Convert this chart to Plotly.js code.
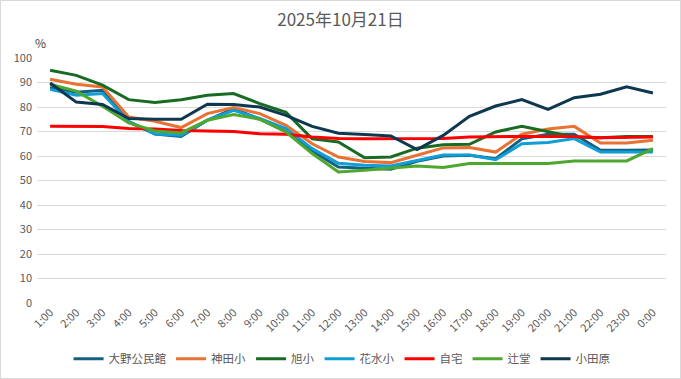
<!DOCTYPE html>
<html>
<head>
<meta charset="utf-8">
<script src="https://cdn.plot.ly/plotly-3.0.1.min.js"></script>
<style>
html,body{margin:0;padding:0;background:#fff;}
#wrap{position:relative;width:681px;height:379px;}
#chart{width:681px;height:379px;}
#border{position:absolute;left:0;top:0;width:679px;height:377px;border:1px solid #d9d9d9;pointer-events:none;}
</style>
</head>
<body>
<div id="wrap"><div id="chart"></div><div id="border"></div></div>
<script>
const hours = ["1:00","2:00","3:00","4:00","5:00","6:00","7:00","8:00","9:00","10:00","11:00","12:00","13:00","14:00","15:00","16:00","17:00","18:00","19:00","20:00","21:00","22:00","23:00","0:00"];
const ohno     = [88, 86, 86.8, 74, 69, 68, 74.6, 79.3, 75, 70, 62, 55.5, 55, 54.6, 57.8, 60, 60.3, 58.9, 67, 68.9, 68.9, 62.3, 62.3, 62.5];
const kanda    = [91.3, 89.3, 88.2, 75.9, 74.2, 71.6, 77.3, 79.8, 77.3, 72.5, 65, 59.6, 57.8, 57.3, 60.3, 63.3, 63.5, 61.6, 68.9, 71, 72.1, 65.3, 65.3, 66.4];
const asahi    = [95, 92.9, 88.9, 83, 81.8, 83, 84.8, 85.5, 81.4, 77.8, 67, 65.7, 59.3, 59.6, 63.2, 64.6, 64.8, 69.8, 72.1, 70, 67.8, 67.5, 68, 68];
const hanamizu = [87.2, 84.8, 85.5, 74, 69, 68.5, 74.6, 78.6, 75.3, 71.2, 63, 57, 56.2, 55.9, 58.2, 60.4, 60.4, 58.5, 65, 65.5, 67.1, 61.6, 61.6, 61.6];
const jitaku   = [72.1, 72, 72, 71.2, 71, 70.4, 70.2, 70, 69.1, 68.9, 67.8, 67.1, 67, 67, 67, 67.1, 67.8, 68, 68, 68, 68, 67.5, 67.6, 67.8];
const tsujido  = [89.3, 86.5, 80.3, 73.5, 70.2, 69.4, 74.6, 76.9, 75, 69.8, 61, 53.5, 54.2, 54.9, 55.9, 55.3, 56.9, 56.9, 56.9, 56.9, 58, 58, 58, 63];
const odawara  = [89.8, 82, 81, 75.3, 75, 75, 81.1, 81, 80, 76.6, 72.1, 69.3, 68.8, 68.2, 62.6, 68.4, 76.2, 80.4, 83, 79, 83.8, 85.2, 88.2, 85.7];

const names  = ["大野公民館","神田小","旭小","花水小","自宅","辻堂","小田原"];
const series = [ohno, kanda, asahi, hanamizu, jitaku, tsujido, odawara];
const colors = ["#156082","#E97132","#196B24","#0F9ED5","#FF0000","#4EA72E","#0E3850"];

const traces = series.map((s,i)=>({
  type:"scatter", mode:"lines", name:names[i], x:hours, y:s,
  line:{color:colors[i], width:3}
}));

const font = "Noto Sans CJK JP, Noto Sans, sans-serif";
const layout = {
  width:681, height:379,
  margin:{l:37, r:15, t:58, b:76, autoexpand:false},
  paper_bgcolor:"#fff", plot_bgcolor:"#fff",
  font:{family:font, color:"#595959", size:11},
  title:{text:"2025年10月21日", font:{family:font, size:17, color:"#595959"}, x:0.5, xanchor:"center", y:0.947, yref:"container", yanchor:"middle"},
  xaxis:{type:"category", range:[-0.5,23.5], tickangle:-45, showgrid:false, zeroline:false, showline:false, ticks:"", tickfont:{size:11, color:"#595959"}, fixedrange:true, automargin:false},
  yaxis:{range:[0,100], dtick:10, showgrid:true, gridcolor:"#d9d9d9", gridwidth:1, zeroline:false, showline:false, ticks:"", ticklabelstandoff:4, tickfont:{size:11, color:"#595959"}, fixedrange:true, automargin:false},
  showlegend:true,
  legend:{orientation:"h", x:0.485, xanchor:"center", y:-0.228, yanchor:"middle", font:{size:11.5, color:"#595959"}, itemwidth:30, tracegroupgap:0},
  annotations:[{text:"%", xref:"paper", yref:"paper", x:0.005, y:1.065, xanchor:"center", yanchor:"middle", showarrow:false, font:{size:12, color:"#404040"}}]
};
Plotly.newPlot("chart", traces, layout, {displayModeBar:false, staticPlot:true});
</script>
</body>
</html>
